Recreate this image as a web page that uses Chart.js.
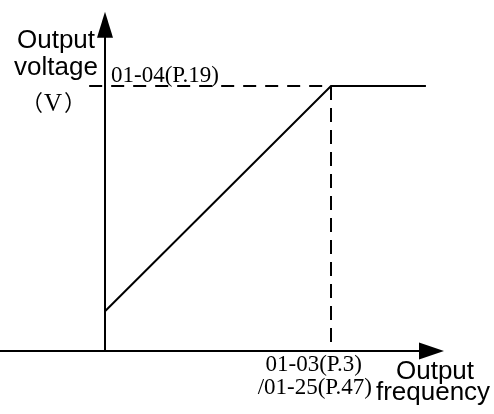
<!DOCTYPE html>
<html>
<head>
<meta charset="utf-8">
<script src="https://cdn.jsdelivr.net/npm/chart.js@4"></script>
<style>
  html, body { margin: 0; padding: 0; background: #fff; }
  #wrap { width: 494px; height: 414px; }
</style>
</head>
<body>
<div id="wrap"><canvas id="vf" width="494" height="414"></canvas></div>
<script>
// V/f curve: output frequency (% of base) vs output voltage (% of max)
var freq = [0, 100, 142];
var volt = [15, 100, 100];

// reference (dashed) lines to the base point
var refX = [-7, 100];
var refY = [100, 0];

// axis extents (chart units)
var xAxisEnd = 150;
var yAxisEnd = 128;

// labels
var yTitle = ['Output', 'voltage', 'V'];
var xTitle = ['Output', 'frequency'];
var voltLabel = '01-04(P.19)';
var freqLabel = ['01-03(P.3)', '/01-25(P.47)'];

var SANS = '"Liberation Sans", Arial, sans-serif';
var SERIF = '"Liberation Serif", "Times New Roman", serif';
var CJK = '"Noto Sans CJK SC", sans-serif';

function pts(xs, ys) {
  return xs.map(function (x, i) { return { x: x, y: ys[i] } })
}

// arrow heads + text
var decor = {
  id: 'decor',
  afterDatasetsDraw: function (chart) {
    var ctx = chart.ctx
    var sx = chart.scales.x, sy = chart.scales.y
    var ox = sx.getPixelForValue(0), oy = sy.getPixelForValue(0)

    ctx.save()
    ctx.fillStyle = '#000'
    // y arrow
    var ty = sy.getPixelForValue(yAxisEnd)
    ctx.beginPath()
    ctx.moveTo(ox, ty)
    ctx.lineTo(ox - 8, ty + 26)
    ctx.lineTo(ox + 8, ty + 26)
    ctx.closePath()
    ctx.fill()
    // x arrow
    var tx = sx.getPixelForValue(xAxisEnd)
    ctx.beginPath()
    ctx.moveTo(tx, oy)
    ctx.lineTo(tx - 25, oy - 8.5)
    ctx.lineTo(tx - 25, oy + 8.5)
    ctx.closePath()
    ctx.fill()

    // axis titles
    ctx.textAlign = 'center'
    ctx.textBaseline = 'alphabetic'
    ctx.font = '26px ' + SANS
    ctx.fillText(yTitle[0], 56, 48)
    ctx.fillText(yTitle[1], 56, 75)
    // unit in full-width brackets
    ctx.font = '25px ' + SERIF
    ctx.fillText(yTitle[2], 53, 111)
    ctx.font = '22px ' + CJK
    ctx.textAlign = 'right'
    ctx.fillText('\uff08', 43, 110)
    ctx.textAlign = 'left'
    ctx.fillText('\uff09', 64, 110)

    ctx.font = '26px ' + SANS
    ctx.textAlign = 'center'
    ctx.fillText(xTitle[0], 435, 379)
    ctx.fillText(xTitle[1], 433, 400)

    // point labels
    var bx = sx.getPixelForValue(100), by = sy.getPixelForValue(100)
    ctx.font = '23px ' + SERIF
    ctx.textAlign = 'left'
    ctx.fillText(voltLabel, ox + 6, by - 4)
    ctx.textAlign = 'right'
    ctx.fillText(freqLabel[0], bx + 31, oy + 20)
    ctx.fillText(freqLabel[1], bx + 41, oy + 43)
    ctx.restore()
  }
}

var ctx = document.getElementById('vf').getContext('2d');

var chart = new Chart(ctx, {
  type: 'scatter',
  data: {
    datasets: [
      { // x axis
        data: pts([-50, xAxisEnd - 5], [0, 0]),
        showLine: true, borderColor: '#000', borderWidth: 2, pointRadius: 0
      },
      { // y axis
        data: pts([0, 0], [0, yAxisEnd - 5]),
        showLine: true, borderColor: '#000', borderWidth: 2, pointRadius: 0
      },
      { // dashed to voltage
        data: pts(refX, [100, 100]),
        showLine: true, borderColor: '#000', borderWidth: 2, pointRadius: 0,
        borderDash: [13, 9]
      },
      { // dashed to frequency
        data: pts([100, 100], refY),
        showLine: true, borderColor: '#000', borderWidth: 2, pointRadius: 0,
        borderDash: [14, 8]
      },
      { // V/f curve
        data: pts(freq, volt),
        showLine: true, borderColor: '#000', borderWidth: 2, pointRadius: 0,
        tension: 0
      }
    ]
  },
  options: {
    responsive: false,
    animation: false,
    devicePixelRatio: 1,
    layout: { padding: 0 },
    plugins: { legend: { display: false }, tooltip: { enabled: false } },
    scales: {
      x: { type: 'linear', display: false, min: -105 / 2.26, max: 389 / 2.26 },
      y: { type: 'linear', display: false, min: -63 / 2.65, max: 351 / 2.65 }
    }
  },
  plugins: [decor]
});
</script>
</body>
</html>
